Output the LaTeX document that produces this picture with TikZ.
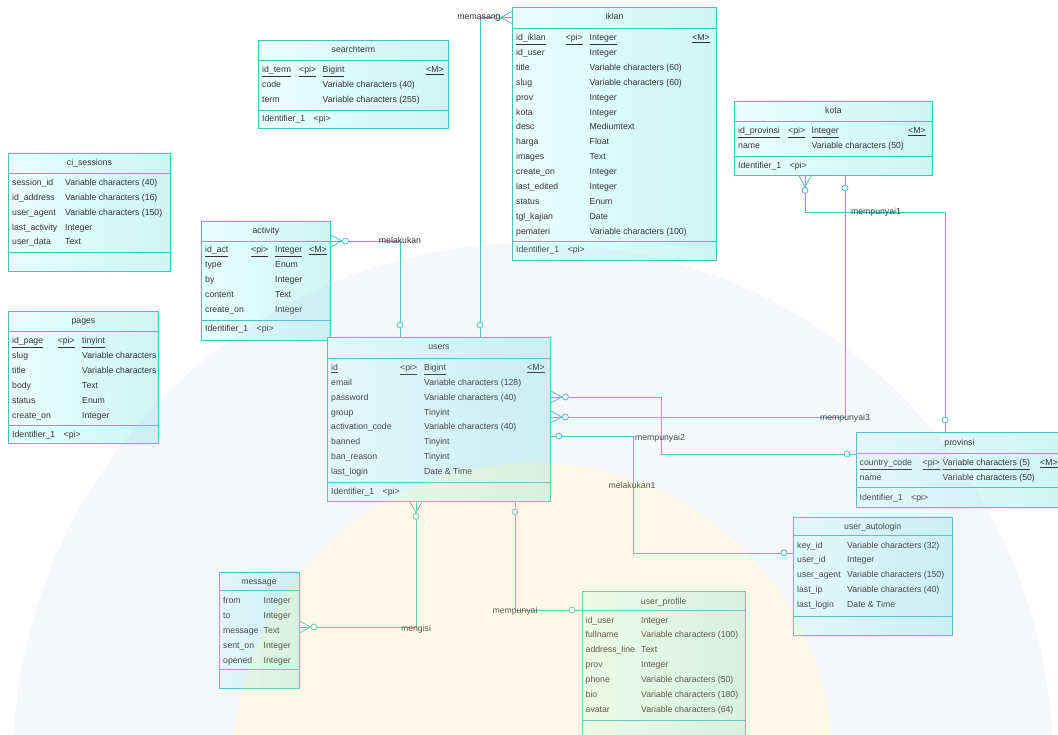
\documentclass[tikz,border=0pt]{standalone}
\usepackage{fontspec}
\setmainfont{Liberation Sans}
\usetikzlibrary{calc}

\definecolor{erline}{HTML}{45C1C1}
\definecolor{erfillA}{HTML}{EAFFFF}
\definecolor{erfillB}{HTML}{CDF4F4}
\definecolor{ertext}{HTML}{333333}
\definecolor{wmyellow}{HTML}{F4EA94}
\definecolor{wmblue}{HTML}{B9CCE8}

\tikzset{
  x=1pt, y=-1pt,
  tbox/.style={draw=erline, line width=0.9pt, left color=erfillA, right color=erfillB,
               inner sep=0pt, anchor=north west},
  cell/.style={font=\fontsize{8.7}{10}\selectfont, text=ertext, inner sep=0pt, anchor=base west},
  ttl/.style={font=\fontsize{8.7}{10}\selectfont, text=ertext, inner sep=0pt, anchor=base},
  sepline/.style={draw=erline, line width=0.9pt},
  rel/.style={draw=erline, line width=0.8pt},
  rlabel/.style={font=\fontsize{8.7}{10}\selectfont, text=ertext, inner sep=0pt, anchor=base},
}

% entity box: name, x, y, width, height, title, first and second separator offsets
\newcommand\ertable[8]{%
  \node[tbox, minimum width=#4pt, minimum height=#5pt] (#1) at (#2,#3) {};
  \node[ttl] (#1-title) at ($(#1.north)+(0,13)$) {#6};
  \draw[sepline] ($(#1.north west)+(0,#7)$) -- ($(#1.north east)+(0,#7)$);
  \draw[sepline] ($(#1.north west)+(0,#8)$) -- ($(#1.north east)+(0,#8)$);
}
% attribute rows: table, name column, type column, first baseline, step, list
\newcommand\errows[6]{%
  \foreach \fn/\ft [count=\i] in {#6} {
    \node[cell] (#1-n\i) at (#2, #4+#5*\i-#5) {\fn};
    \node[cell] (#1-t\i) at (#3, #4+#5*\i-#5) {\ft};
  }}
% primary key row: table, baseline, then x and text for the four columns
\newcommand\erkey[9]{%
  \node[cell] (#1-k1) at (#3,#2) {\underline{#4}};
  \node[cell] (#1-k2) at (#5,#2) {\underline{#6}};
  \node[cell] (#1-k3) at (#7,#2) {\underline{#8}};
  \node[cell] (#1-k4) at (#9,#2) {\underline{<M>}};
}
\newcommand\erident[3]{%
  \node[cell] (#1-id) at (#2,#3) {Identifier\_1};
  \node[cell] (#1-idpi) at (#2+51.5,#3) {<pi>};
}
% relationship ends: edge point, outward angle (and distance of the circle)
\newcommand\manyend[2]{%
  \begin{scope}[shift={(#1)}, rotate=#2]
    \draw[rel] (0,6) -- (11,0) -- (0,-6);
    \draw[rel, fill=white] (14.5,0) circle[radius=3pt];
  \end{scope}}
\newcommand\oneend[3]{%
  \begin{scope}[shift={(#1)}, rotate=#2]
    \draw[rel, fill=white] (#3,0) circle[radius=3pt];
  \end{scope}}

\begin{document}
\begin{tikzpicture}
\useasboundingbox (0,0) rectangle (1058,735);
\fill[white] (0,0) rectangle (1058,735);

% ---------------- entities ----------------
\ertable{searchterm}{258}{40}{190}{88}{searchterm}{20}{70}
\erkey{searchterm}{73}{262}{id\_term}{299}{<pi>}{322.5}{Bigint}{426}
\errows{searchterm}{262}{322.5}{88}{15}{code/Variable characters (40), term/Variable characters (255)}
\erident{searchterm}{262}{122}

\ertable{iklan}{512}{7}{204}{253}{iklan}{21}{234.5}
\erkey{iklan}{40.7}{516}{id\_iklan}{565.5}{<pi>}{589.5}{Integer}{692}
\errows{iklan}{516}{589.5}{55.6}{14.87}{id\_user/Integer, title/Variable characters (60),
  slug/Variable characters (60), prov/Integer, kota/Integer, desc/Mediumtext, harga/Float,
  images/Text, create\_on/Integer, last\_edited/Integer, status/Enum, tgl\_kajian/Date,
  pemateri/Variable characters (100)}
\erident{iklan}{516}{253}

\ertable{kota}{734}{101}{198}{74}{kota}{20}{55}
\erkey{kota}{134}{738}{id\_provinsi}{788}{<pi>}{811.5}{Integer}{908}
\errows{kota}{738}{811.5}{149}{15}{name/Variable characters (50)}
\erident{kota}{738}{169}

\ertable{ci}{8}{153}{162}{118}{ci\_sessions}{20}{99}
\errows{ci}{12}{65}{186}{14.7}{session\_id/Variable characters (40), id\_address/Variable characters (16),
  user\_agent/Variable characters (150), last\_activity/Integer, user\_data/Text}

\ertable{activity}{201}{221}{129}{119}{activity}{20}{99}
\erkey{activity}{253}{205}{id\_act}{251}{<pi>}{275}{Integer}{309}
\errows{activity}{205}{275}{268}{15}{type/Enum, by/Integer, content/Text, create\_on/Integer}
\erident{activity}{205}{332}

\ertable{pages}{8}{311}{150}{132}{pages}{20}{114}
\node[cell] (pages-k1) at (12,344) {\underline{id\_page}};
\node[cell] (pages-k2) at (57.5,344) {\underline{<pi>}};
\node[cell] (pages-k3) at (82,344) {\underline{tinyint}};
\errows{pages}{12}{82}{359}{14.85}{slug/Variable characters, title/Variable characters,
  body/Text, status/Enum, create\_on/Integer}
\erident{pages}{12}{437}

\ertable{users}{327}{337}{223}{164}{users}{21}{145}
\erkey{users}{370.5}{331}{id}{400}{<pi>}{424}{Bigint}{527}
\errows{users}{331}{424}{385.4}{14.85}{email/Variable characters (128), password/Variable characters (40),
  group/Tinyint, activation\_code/Variable characters (40), banned/Tinyint, ban\_reason/Tinyint,
  last\_login/Date \& Time}
\erident{users}{331}{494.5}

\ertable{provinsi}{855.5}{432}{207}{75}{provinsi}{21}{55}
\erkey{provinsi}{465.5}{859.5}{country\_code}{922.5}{<pi>}{942.5}{Variable characters (5)}{1040}
\errows{provinsi}{859.5}{942.5}{480.5}{15}{name/Variable characters (50)}
\erident{provinsi}{859.5}{500}

\ertable{ual}{793}{516.5}{158.5}{118.5}{user\_autologin}{18.5}{99.5}
\errows{ual}{797}{847}{548}{14.75}{key\_id/Variable characters (32), user\_id/Integer,
  user\_agent/Variable characters (150), last\_ip/Variable characters (40), last\_login/Date \& Time}

\ertable{message}{218.5}{571.5}{80}{116}{message}{18.5}{98}
\errows{message}{223}{263.5}{603}{15}{from/Integer, to/Integer, message/Text, sent\_on/Integer, opened/Integer}

\ertable{uprof}{581.5}{591}{163.5}{160}{user\_profile}{19.5}{129}
\errows{uprof}{585.5}{641}{623}{14.9}{id\_user/Integer, fullname/Variable characters (100),
  address\_line/Text, prov/Integer, phone/Variable characters (50), bio/Variable characters (180),
  avatar/Variable characters (64)}

% ---------------- connection points ----------------
\coordinate (u-t400) at ($(users.north west)+(73,0)$);
\coordinate (u-t480) at ($(users.north west)+(153,0)$);
\coordinate (u-r397) at ($(users.north east)+(0,60)$);
\coordinate (u-r417) at ($(users.north east)+(0,80)$);
\coordinate (u-r436) at ($(users.north east)+(0,99)$);
\coordinate (u-b416) at ($(users.south west)+(89,0)$);
\coordinate (u-b515) at ($(users.south west)+(188,0)$);
\coordinate (ik-l)   at ($(iklan.north west)+(0,10.5)$);
\coordinate (act-r)  at ($(activity.north east)+(0,20)$);
\coordinate (kota-b805) at ($(kota.south west)+(71,0)$);
\coordinate (kota-b845) at ($(kota.south west)+(111,0)$);
\coordinate (prov-t945) at ($(provinsi.north west)+(89.5,0)$);
\coordinate (prov-l454) at ($(provinsi.north west)+(0,22)$);
\coordinate (ual-l553)  at ($(ual.north west)+(0,36.5)$);
\coordinate (msg-r627)  at ($(message.north east)+(0,55.5)$);
\coordinate (up-l610)   at ($(uprof.north west)+(0,19)$);

% ---------------- relationships ----------------
\draw[rel] (u-t480) |- (ik-l);
\draw[rel] (act-r) -| (u-t400);
\draw[rel] (kota-b805) -- ($(kota-b805)+(0,37)$) -| (prov-t945);
\draw[rel] (u-r417) -| (kota-b845);
\draw[rel] (u-r397) -- ++(110,0) |- (prov-l454);
\draw[rel] (u-r436) -- ++(82.5,0) |- (ual-l553);
\draw[rel] (u-b416) |- (msg-r627);
\draw[rel] (u-b515) |- (up-l610);

\manyend{ik-l}{180}
\manyend{act-r}{0}
\manyend{kota-b805}{-90}
\manyend{u-r397}{0}
\manyend{u-r417}{0}
\manyend{u-b416}{-90}
\manyend{msg-r627}{0}
\oneend{u-t400}{90}{12}
\oneend{u-t480}{90}{12}
\oneend{prov-t945}{90}{12}
\oneend{kota-b845}{-90}{12}
\oneend{prov-l454}{180}{8.5}
\oneend{u-r436}{0}{8}
\oneend{ual-l553}{180}{9}
\oneend{u-b515}{-90}{10}
\oneend{up-l610}{180}{9.5}

\node[rlabel] (l-memasang)   at (479,20)  {memasang};
\node[rlabel] (l-melakukan)  at (400,244) {melakukan};
\node[rlabel] (l-mempunyai1) at (876,215) {mempunyai1};
\node[rlabel] (l-mempunyai3) at (845,420) {mempunyai3};
\node[rlabel] (l-mempunyai2) at (660,440) {mempunyai2};
\node[rlabel] (l-melakukan1) at (632,488) {melakukan1};
\node[rlabel] (l-mengisi)    at (416,631) {mengisi};
\node[rlabel] (l-mempunyai)  at (515,613) {mempunyai};

% ---------------- faint seal tint laid over the sheet ----------------
\fill[wmyellow, fill opacity=0.22] (533,763) circle[radius=300pt];
\fill[wmblue, fill opacity=0.14, even odd rule]
  (533,763) circle[radius=520pt] (533,763) circle[radius=300pt];
\end{tikzpicture}
\end{document}
